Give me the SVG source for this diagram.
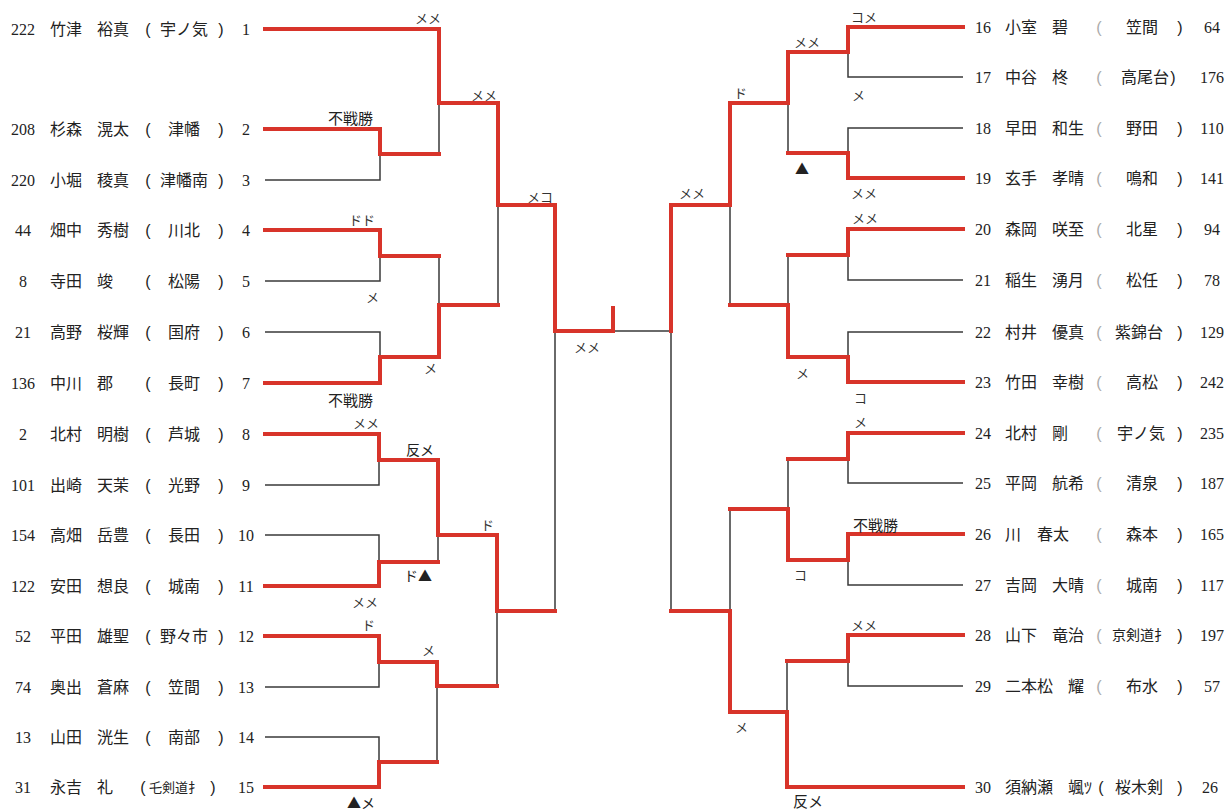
<svg xmlns="http://www.w3.org/2000/svg" width="1228" height="812" viewBox="0 0 1228 812">
<style>
.g{stroke:#3a3a3a;stroke-width:1.5;fill:none}
.r{stroke:#d8342a;stroke-width:4;fill:none;stroke-linecap:square;stroke-linejoin:miter}
.n{font-family:"Liberation Serif",serif;font-size:16px;fill:#222}
.j{font-family:"Noto Sans CJK JP",sans-serif;font-size:16px;fill:#222}
.p{font-family:"Liberation Sans",sans-serif;font-size:16px;fill:#222;text-anchor:middle}
.pf{font-family:"Liberation Sans",sans-serif;font-size:16px;fill:#aaa;text-anchor:middle}
.m{text-anchor:middle}
.l{font-family:"Noto Sans CJK JP",sans-serif;font-size:13px;fill:#333}
.lb{font-family:"Noto Sans CJK JP",sans-serif;font-size:15px;fill:#222}
</style>
<rect width="1228" height="812" fill="#fff"/>
<g id="connectors">
<g id="grey-lines">
<path class="g" d="M265 180H380V154M439 103V154M265 281H380V256M265 332H380V357M439 256V305M498 205V305M265 485H379V460M265 535H379V562M438 535V562M265 687H379V662M265 737H379V762M437 686V762M497 611V686M555 331V611M613 331H671V611"/>
<path class="g" d="M963 77H848V52M788 103V153M963 128H848V153M963 280H848V255M788 255V305M963 332H848V357M730 205V305M963 483H848V459M788 459V509M963 585H848V560M730 509V611M963 686H848V661M787 661V712"/>
</g>
<g id="red-lines">
<path class="r" d="M265 29H439V103H498V205H555V331H613V308"/>
<path class="r" d="M265 129H380V154H439"/>
<path class="r" d="M265 230H380V256H439"/>
<path class="r" d="M265 383H380V357H439V305H498"/>
<path class="r" d="M265 434H379V460H438V535H497V611H555"/>
<path class="r" d="M265 586H379V562H438"/>
<path class="r" d="M265 636H379V662H437V686H497"/>
<path class="r" d="M265 787H379V762H437"/>
<path class="r" d="M963 27H848V52H788V103H730V205H671V331"/>
<path class="r" d="M963 178H848V153H788"/>
<path class="r" d="M963 229H848V255H788"/>
<path class="r" d="M963 382H848V357H788V305H730"/>
<path class="r" d="M963 433H848V459H788"/>
<path class="r" d="M963 534H848V560H788V509H730"/>
<path class="r" d="M963 635H848V661H787"/>
<path class="r" d="M963 787H787V712H730V611H671"/>
</g>
</g>
<g id="labels">
<text class="l" x="415" y="23">メメ</text>
<text class="l" x="471" y="100">メメ</text>
<text class="lb" x="328" y="124">不戦勝</text>
<text class="l" x="527" y="202">メコ</text>
<text class="l" x="349" y="225">ドド</text>
<text class="l" x="366" y="302">メ</text>
<text class="l" x="424" y="373">メ</text>
<text class="l" x="574" y="352">メメ</text>
<text class="lb" x="328" y="406">不戦勝</text>
<text class="l" x="353" y="428">メメ</text>
<text class="lb" x="406" y="455" style="font-size:14px">反メ</text>
<text class="l" x="481" y="530">ド</text>
<text class="lb" x="404" y="581" style="font-size:14px">ド▲</text>
<text class="l" x="352" y="607">メメ</text>
<text class="l" x="362" y="630">ド</text>
<text class="l" x="422" y="655">メ</text>
<text class="lb" x="347" y="808" style="font-size:14px">▲メ</text>
<text class="l" x="851" y="22">コメ</text>
<text class="l" x="794" y="47">メメ</text>
<text class="l" x="852" y="100">メ</text>
<text class="l" x="734" y="98">ド</text>
<text class="lb" x="795" y="174" style="font-size:14px">▲</text>
<text class="l" x="851" y="198">メメ</text>
<text class="l" x="679" y="198">メメ</text>
<text class="l" x="852" y="223">メメ</text>
<text class="l" x="796" y="378">メ</text>
<text class="l" x="854" y="403">コ</text>
<text class="l" x="854" y="427">メ</text>
<text class="lb" x="853" y="531">不戦勝</text>
<text class="l" x="794" y="580">コ</text>
<text class="l" x="851" y="630">メメ</text>
<text class="l" x="735" y="732">メ</text>
<text class="lb" x="793" y="807">反メ</text>
</g>
<g id="p1"><text class="n m" x="23" y="35">222</text><text class="j" x="50" y="35">竹津</text><text class="j" x="97" y="35">裕真</text><text class="p" x="148" y="35">(</text><text class="j m" x="184" y="35">宇ノ気</text><text class="p" x="221" y="35">)</text><text class="n m" x="246" y="35">1</text></g>
<g id="p2"><text class="n m" x="23" y="135">208</text><text class="j" x="50" y="135">杉森</text><text class="j" x="97" y="135">滉太</text><text class="p" x="148" y="135">(</text><text class="j m" x="184" y="135">津幡</text><text class="p" x="221" y="135">)</text><text class="n m" x="246" y="135">2</text></g>
<g id="p3"><text class="n m" x="23" y="186">220</text><text class="j" x="50" y="186">小堀</text><text class="j" x="97" y="186">稜真</text><text class="p" x="148" y="186">(</text><text class="j m" x="184" y="186">津幡南</text><text class="p" x="221" y="186">)</text><text class="n m" x="246" y="186">3</text></g>
<g id="p4"><text class="n m" x="23" y="236">44</text><text class="j" x="50" y="236">畑中</text><text class="j" x="97" y="236">秀樹</text><text class="p" x="148" y="236">(</text><text class="j m" x="184" y="236">川北</text><text class="p" x="221" y="236">)</text><text class="n m" x="246" y="236">4</text></g>
<g id="p5"><text class="n m" x="23" y="287">8</text><text class="j" x="50" y="287">寺田</text><text class="j" x="97" y="287">竣</text><text class="p" x="148" y="287">(</text><text class="j m" x="184" y="287">松陽</text><text class="p" x="221" y="287">)</text><text class="n m" x="246" y="287">5</text></g>
<g id="p6"><text class="n m" x="23" y="338">21</text><text class="j" x="50" y="338">高野</text><text class="j" x="97" y="338">桜輝</text><text class="p" x="148" y="338">(</text><text class="j m" x="184" y="338">国府</text><text class="p" x="221" y="338">)</text><text class="n m" x="246" y="338">6</text></g>
<g id="p7"><text class="n m" x="23" y="389">136</text><text class="j" x="50" y="389">中川</text><text class="j" x="97" y="389">郡</text><text class="p" x="148" y="389">(</text><text class="j m" x="184" y="389">長町</text><text class="p" x="221" y="389">)</text><text class="n m" x="246" y="389">7</text></g>
<g id="p8"><text class="n m" x="23" y="440">2</text><text class="j" x="50" y="440">北村</text><text class="j" x="97" y="440">明樹</text><text class="p" x="148" y="440">(</text><text class="j m" x="184" y="440">芦城</text><text class="p" x="221" y="440">)</text><text class="n m" x="246" y="440">8</text></g>
<g id="p9"><text class="n m" x="23" y="491">101</text><text class="j" x="50" y="491">出崎</text><text class="j" x="97" y="491">天茉</text><text class="p" x="148" y="491">(</text><text class="j m" x="184" y="491">光野</text><text class="p" x="221" y="491">)</text><text class="n m" x="246" y="491">9</text></g>
<g id="p10"><text class="n m" x="23" y="541">154</text><text class="j" x="50" y="541">高畑</text><text class="j" x="97" y="541">岳豊</text><text class="p" x="148" y="541">(</text><text class="j m" x="184" y="541">長田</text><text class="p" x="221" y="541">)</text><text class="n m" x="246" y="541">10</text></g>
<g id="p11"><text class="n m" x="23" y="592">122</text><text class="j" x="50" y="592">安田</text><text class="j" x="97" y="592">想良</text><text class="p" x="148" y="592">(</text><text class="j m" x="184" y="592">城南</text><text class="p" x="221" y="592">)</text><text class="n m" x="246" y="592">11</text></g>
<g id="p12"><text class="n m" x="23" y="642">52</text><text class="j" x="50" y="642">平田</text><text class="j" x="97" y="642">雄聖</text><text class="p" x="148" y="642">(</text><text class="j m" x="184" y="642">野々市</text><text class="p" x="221" y="642">)</text><text class="n m" x="246" y="642">12</text></g>
<g id="p13"><text class="n m" x="23" y="693">74</text><text class="j" x="50" y="693">奥出</text><text class="j" x="97" y="693">蒼麻</text><text class="p" x="148" y="693">(</text><text class="j m" x="184" y="693">笠間</text><text class="p" x="221" y="693">)</text><text class="n m" x="246" y="693">13</text></g>
<g id="p14"><text class="n m" x="23" y="743">13</text><text class="j" x="50" y="743">山田</text><text class="j" x="97" y="743">洸生</text><text class="p" x="148" y="743">(</text><text class="j m" x="184" y="743">南部</text><text class="p" x="221" y="743">)</text><text class="n m" x="246" y="743">14</text></g>
<g id="p15"><text class="n m" x="23" y="793">31</text><text class="j" x="50" y="793">永吉</text><text class="j" x="97" y="793">礼</text><text class="p" x="143" y="793">(</text><text class="j m" x="175" y="792" style="font-size:13px">乇剣道扌</text><text class="p" x="213" y="793">)</text><text class="n m" x="246" y="793">15</text></g>
<g id="p16"><text class="n" x="975" y="33">16</text><text class="j" x="1005" y="33">小室</text><text class="j" x="1052" y="33">碧</text><text class="pf" x="1099" y="33">(</text><text class="j m" x="1142" y="33">笠間</text><text class="p" x="1180" y="33">)</text><text class="n m" x="1212" y="33">64</text></g>
<g id="p17"><text class="n" x="975" y="83">17</text><text class="j" x="1005" y="83">中谷</text><text class="j" x="1052" y="83">柊</text><text class="pf" x="1099" y="83">(</text><text class="j m" x="1145" y="83">高尾台</text><text class="p" x="1173" y="83">)</text><text class="n m" x="1212" y="83">176</text></g>
<g id="p18"><text class="n" x="975" y="134">18</text><text class="j" x="1005" y="134">早田</text><text class="j" x="1052" y="134">和生</text><text class="pf" x="1099" y="134">(</text><text class="j m" x="1142" y="134">野田</text><text class="p" x="1180" y="134">)</text><text class="n m" x="1212" y="134">110</text></g>
<g id="p19"><text class="n" x="975" y="184">19</text><text class="j" x="1005" y="184">玄手</text><text class="j" x="1052" y="184">孝晴</text><text class="pf" x="1099" y="184">(</text><text class="j m" x="1142" y="184">鳴和</text><text class="p" x="1180" y="184">)</text><text class="n m" x="1212" y="184">141</text></g>
<g id="p20"><text class="n" x="975" y="235">20</text><text class="j" x="1005" y="235">森岡</text><text class="j" x="1052" y="235">咲至</text><text class="pf" x="1099" y="235">(</text><text class="j m" x="1142" y="235">北星</text><text class="p" x="1180" y="235">)</text><text class="n m" x="1212" y="235">94</text></g>
<g id="p21"><text class="n" x="975" y="286">21</text><text class="j" x="1005" y="286">稲生</text><text class="j" x="1052" y="286">湧月</text><text class="pf" x="1099" y="286">(</text><text class="j m" x="1142" y="286">松任</text><text class="p" x="1180" y="286">)</text><text class="n m" x="1212" y="286">78</text></g>
<g id="p22"><text class="n" x="975" y="338">22</text><text class="j" x="1005" y="338">村井</text><text class="j" x="1052" y="338">優真</text><text class="pf" x="1099" y="338">(</text><text class="j m" x="1139" y="338">紫錦台</text><text class="p" x="1180" y="338">)</text><text class="n m" x="1212" y="338">129</text></g>
<g id="p23"><text class="n" x="975" y="388">23</text><text class="j" x="1005" y="388">竹田</text><text class="j" x="1052" y="388">幸樹</text><text class="pf" x="1099" y="388">(</text><text class="j m" x="1142" y="388">高松</text><text class="p" x="1180" y="388">)</text><text class="n m" x="1212" y="388">242</text></g>
<g id="p24"><text class="n" x="975" y="439">24</text><text class="j" x="1005" y="439">北村</text><text class="j" x="1052" y="439">剛</text><text class="pf" x="1099" y="439">(</text><text class="j m" x="1141" y="439">宇ノ気</text><text class="p" x="1180" y="439">)</text><text class="n m" x="1212" y="439">235</text></g>
<g id="p25"><text class="n" x="975" y="489">25</text><text class="j" x="1005" y="489">平岡</text><text class="j" x="1052" y="489">航希</text><text class="pf" x="1099" y="489">(</text><text class="j m" x="1142" y="489">清泉</text><text class="p" x="1180" y="489">)</text><text class="n m" x="1212" y="489">187</text></g>
<g id="p26"><text class="n" x="975" y="540">26</text><text class="j" x="1005" y="540">川</text><text class="j" x="1037" y="540">春太</text><text class="pf" x="1099" y="540">(</text><text class="j m" x="1142" y="540">森本</text><text class="p" x="1180" y="540">)</text><text class="n m" x="1212" y="540">165</text></g>
<g id="p27"><text class="n" x="975" y="591">27</text><text class="j" x="1005" y="591">吉岡</text><text class="j" x="1052" y="591">大晴</text><text class="pf" x="1099" y="591">(</text><text class="j m" x="1142" y="591">城南</text><text class="p" x="1180" y="591">)</text><text class="n m" x="1212" y="591">117</text></g>
<g id="p28"><text class="n" x="975" y="641">28</text><text class="j" x="1005" y="641">山下</text><text class="j" x="1052" y="641">竜治</text><text class="pf" x="1099" y="641">(</text><text class="j m" x="1140" y="640" style="font-size:14px">京剣道扌</text><text class="p" x="1180" y="641">)</text><text class="n m" x="1212" y="641">197</text></g>
<g id="p29"><text class="n" x="975" y="692">29</text><text class="j" x="1005" y="692">二本松</text><text class="j" x="1068" y="692">耀</text><text class="pf" x="1099" y="692">(</text><text class="j m" x="1142" y="692">布水</text><text class="p" x="1180" y="692">)</text><text class="n m" x="1212" y="692">57</text></g>
<g id="p30"><text class="n" x="975" y="793">30</text><text class="j" x="1005" y="793">須納瀬</text><text class="j" x="1068" y="793">颯ﾂ</text><text class="p" x="1101" y="793">(</text><text class="j m" x="1139" y="793">桜木剣</text><text class="p" x="1180" y="793">)</text><text class="n m" x="1210" y="793">26</text></g>
</svg>
